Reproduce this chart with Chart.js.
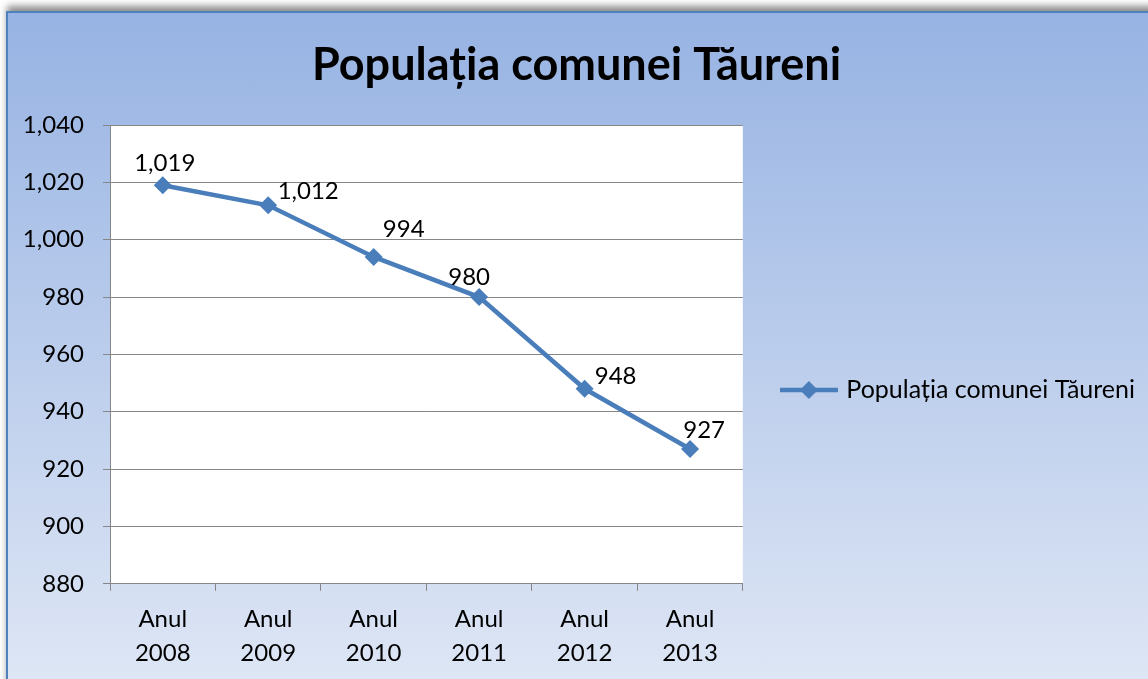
<!DOCTYPE html>
<html>
<head>
<meta charset="utf-8">
<script src="https://cdn.jsdelivr.net/npm/chart.js@4.4.1/dist/chart.umd.min.js"></script>
<style>
  html, body { margin: 0; padding: 0; background: #fff; overflow: hidden; }
  #frame {
    position: absolute; left: 6px; top: 11px; width: 1150px; height: 680px;
    border-left: 2px solid #4f81bd; border-top: 2px solid #4f81bd;
    background: linear-gradient(#97b3e3, #dfe7f5);
    box-shadow: 1px -5px 7px rgba(0,0,0,0.45);
  }
  #wrap { position: absolute; left: 0; top: 0; width: 1140px; height: 666px; }
</style>
</head>
<body>
<div id="frame"><div id="wrap"><canvas id="myChart"></canvas></div></div>
<script>
// date
const categories = [["Anul", "2008"], ["Anul", "2009"], ["Anul", "2010"], ["Anul", "2011"], ["Anul", "2012"], ["Anul", "2013"]];
const populatie = [1019, 1012, 994, 980, 948, 927];
const seriesName = "Populația comunei Tăureni";
const yMin = 880, yMax = 1040, yStep = 20;

// unde stau etichetele fata de puncte (dx, dy)
const labelOffsets = [[2, -22], [40, -14], [30, -28], [-10, -20], [31, -13], [14, -19]];

const blue = "#4a7ebb";
const fontFam = "Lato, 'Open Sans', sans-serif";
const fontSize = 24;

// iconita pentru legenda: linie + romb
const legendIcon = document.createElement("canvas");
legendIcon.width = 58;
legendIcon.height = 20;
(function () {
    const c = legendIcon.getContext("2d");
    c.strokeStyle = blue;
    c.lineWidth = 4.5;
    c.beginPath();
    c.moveTo(0, 10);
    c.lineTo(58, 10);
    c.stroke();
    c.fillStyle = blue;
    c.beginPath();
    c.moveTo(29 - 9, 10);
    c.lineTo(29, 1);
    c.lineTo(29 + 9, 10);
    c.lineTo(29, 19);
    c.closePath();
    c.fill();
})();

const plotBg = {
    id: "plotBg",
    beforeDraw(chart) {
        const a = chart.chartArea, ctx = chart.ctx;
        ctx.save();
        ctx.fillStyle = "#ffffff";
        ctx.fillRect(a.left, a.top, a.right - a.left, a.bottom - a.top);
        ctx.restore();
    }
};

const valueLabels = {
    id: "valueLabels",
    afterDatasetsDraw(chart) {
        const ctx = chart.ctx;
        const meta = chart.getDatasetMeta(0);
        ctx.save();
        ctx.font = fontSize + "px " + fontFam;
        ctx.fillStyle = "#000";
        ctx.textAlign = "center";
        ctx.textBaseline = "middle";
        meta.data.forEach((pt, i) => {
            const txt = populatie[i].toLocaleString("en-US");
            ctx.fillText(txt, pt.x + labelOffsets[i][0], pt.y + labelOffsets[i][1]);
        });
        ctx.restore();
    }
};

var ctx = document.getElementById("myChart").getContext("2d");
var myChart = new Chart(ctx, {
    type: "line",
    data: {
        labels: categories,
        datasets: [
            {
                label: seriesName,
                data: populatie,
                borderColor: blue,
                backgroundColor: blue,
                borderWidth: 4.5,
                tension: 0,
                pointStyle: "rectRot",
                pointRadius: 9,
                pointHoverRadius: 9,
                pointBackgroundColor: blue,
                pointBorderWidth: 0,
            },
        ],
    },
    options: {
        responsive: true,
        maintainAspectRatio: false,
        animation: false,
        locale: "en-US",
        layout: { padding: { left: 0, right: 3, top: 0, bottom: -3 } },
        plugins: {
            tooltip: { enabled: false },
            title: {
                display: true,
                text: seriesName,
                color: "#000",
                font: { family: fontFam, size: 45, weight: "bold", lineHeight: 1.2 },
                padding: { top: 25, bottom: 33 },
            },
            legend: {
                position: "right",
                maxWidth: 450,
                // titlu gol doar ca sa coboare legenda
                title: { display: true, text: "", font: { size: 10, lineHeight: 1.2 }, padding: { top: 73, bottom: 0 } },
                labels: {
                    color: "#000",
                    font: { family: fontFam, size: 25 },
                    usePointStyle: true,
                    pointStyle: legendIcon,
                    pointStyleWidth: 50,
                    boxHeight: 20,
                    padding: 41,
                },
            },
        },
        scales: {
            x: {
                offset: true,
                grid: { display: true, offset: true, drawOnChartArea: false, color: "#868686", tickLength: 7 },
                border: { color: "#868686" },
                ticks: { color: "#000", font: { family: fontFam, size: fontSize, lineHeight: 1.4 }, padding: 12, maxRotation: 0 },
            },
            y: {
                min: yMin,
                max: yMax,
                grid: { color: "#868686", tickLength: 7 },
                border: { color: "#868686" },
                ticks: { stepSize: yStep, color: "#000", font: { family: fontFam, size: fontSize }, padding: 19 },
                afterFit(scale) { scale.width = 102; },
            },
        },
    },
    plugins: [plotBg, valueLabels],
});
</script>
</body>
</html>
